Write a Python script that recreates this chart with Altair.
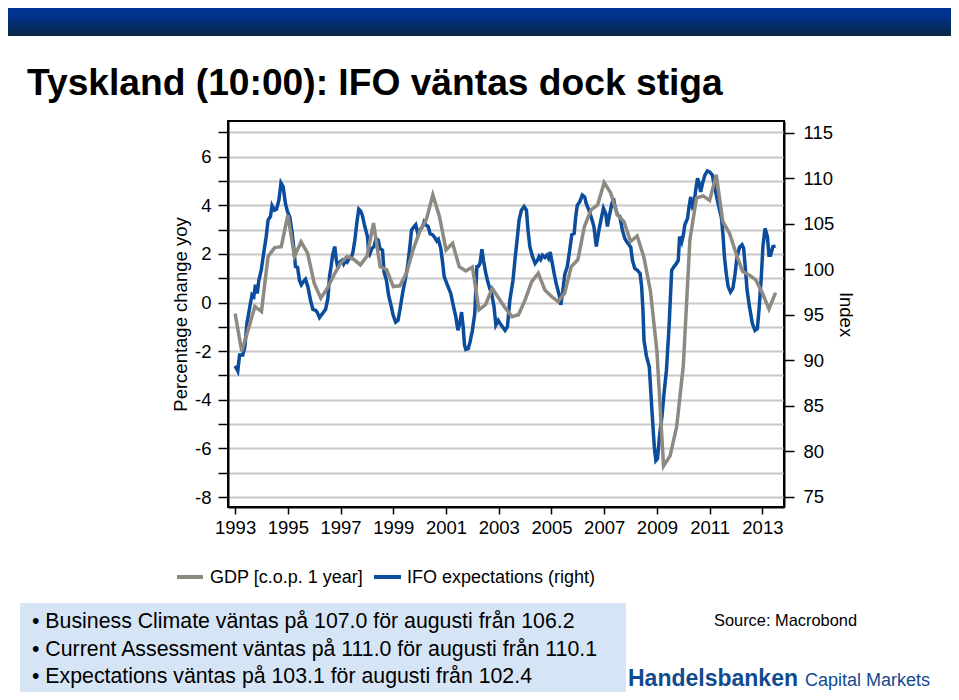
import altair as alt
import pandas as pd

# ---------------- data ----------------
gdp_time = [
    1993.00, 1993.25, 1993.50, 1993.75, 1994.00, 1994.25, 1994.50, 1994.75,
    1995.00, 1995.25, 1995.50, 1995.75, 1996.00, 1996.25, 1996.50, 1996.75,
    1997.00, 1997.25, 1997.50, 1997.75, 1998.00, 1998.25, 1998.50, 1998.75,
    1999.00, 1999.25, 1999.50, 1999.75, 2000.00, 2000.25, 2000.50, 2000.75,
    2001.00, 2001.25, 2001.50, 2001.75, 2002.00, 2002.25, 2002.50, 2002.75,
    2003.00, 2003.25, 2003.50, 2003.75, 2004.00, 2004.25, 2004.50, 2004.75,
    2005.00, 2005.25, 2005.50, 2005.75, 2006.00, 2006.25, 2006.50, 2006.75,
    2007.00, 2007.25, 2007.50, 2007.75, 2008.00, 2008.25, 2008.50, 2008.75,
    2009.00, 2009.25, 2009.50, 2009.75, 2010.00, 2010.25, 2010.50, 2010.75,
    2011.00, 2011.25, 2011.50, 2011.75, 2012.00, 2012.25, 2012.50, 2012.75,
    2013.00, 2013.25, 2013.50,
]
gdp_value = [
    -0.45, -2.0, -1.1, -0.16, -0.37, 1.9, 2.26, 2.3,
    3.6, 1.9, 2.5, 2.03, 0.8, 0.18, 0.59, 1.14,
    1.62, 1.9, 1.78, 1.55, 1.9, 3.27, 1.48, 1.35,
    0.66, 0.69, 1.21, 2.17, 2.92, 3.4, 4.43, 3.54,
    2.17, 2.44, 1.48, 1.3, 1.46, -0.3, -0.09, 0.59,
    0.18, -0.23, -0.58, -0.5, 0.11, 0.86, 1.21, 0.52,
    0.25, 0.04, 0.39, 1.48, 1.76, 3.13, 3.81, 4.02,
    4.94, 4.5, 3.61, 3.33, 2.51, 2.74, 1.89, 0.5,
    -2.0, -6.72, -6.3, -5.1, -2.6, 2.58, 4.3, 4.39,
    4.2, 5.26, 3.33, 2.86, 2.03, 1.28, 1.14, 0.93,
    0.39, -0.27, 0.41,
]

ifo_time = [
    1993.00, 1993.10, 1993.17, 1993.29, 1993.37, 1993.45, 1993.58, 1993.64,
    1993.71, 1993.77, 1993.84, 1993.90, 1993.99, 1994.09, 1994.18, 1994.25,
    1994.34, 1994.40, 1994.49, 1994.57, 1994.66, 1994.74, 1994.82, 1994.91,
    1994.99, 1995.07, 1995.16, 1995.22, 1995.29, 1995.37, 1995.44, 1995.51,
    1995.58, 1995.67, 1995.76, 1995.86, 1995.95, 1996.05, 1996.11, 1996.20,
    1996.30, 1996.43, 1996.52, 1996.58, 1996.64, 1996.70, 1996.78, 1996.84,
    1996.90, 1996.97, 1997.06, 1997.12, 1997.19, 1997.25, 1997.34, 1997.42,
    1997.47, 1997.54, 1997.63, 1997.69, 1997.76, 1997.82, 1997.92, 1998.02,
    1998.06, 1998.11, 1998.19, 1998.27, 1998.34, 1998.43, 1998.49, 1998.59,
    1998.65, 1998.74, 1998.82, 1998.91, 1998.99, 1999.09, 1999.18, 1999.26,
    1999.35, 1999.45, 1999.54, 1999.63, 1999.69, 1999.79, 1999.85, 1999.94,
    2000.01, 2000.11, 2000.17, 2000.23, 2000.32, 2000.40, 2000.49, 2000.57,
    2000.65, 2000.71, 2000.80, 2000.86, 2000.93, 2001.05, 2001.18, 2001.27,
    2001.37, 2001.45, 2001.52, 2001.59, 2001.65, 2001.70, 2001.75, 2001.84,
    2001.91, 2002.00, 2002.09, 2002.17, 2002.23, 2002.29, 2002.36, 2002.42,
    2002.51, 2002.57, 2002.66, 2002.73, 2002.82, 2002.89, 2002.98, 2003.05,
    2003.14, 2003.24, 2003.33, 2003.42, 2003.54, 2003.62, 2003.71, 2003.77,
    2003.86, 2003.96, 2004.05, 2004.11, 2004.18, 2004.28, 2004.38, 2004.47,
    2004.53, 2004.59, 2004.66, 2004.75, 2004.82, 2004.89, 2004.95, 2005.01,
    2005.10, 2005.19, 2005.29, 2005.35, 2005.42, 2005.50, 2005.60, 2005.69,
    2005.77, 2005.86, 2005.92, 2005.98, 2006.07, 2006.17, 2006.26, 2006.32,
    2006.42, 2006.52, 2006.61, 2006.70, 2006.80, 2006.89, 2006.97, 2007.06,
    2007.12, 2007.21, 2007.29, 2007.35, 2007.41, 2007.50, 2007.59, 2007.69,
    2007.78, 2007.86, 2007.94, 2008.01, 2008.07, 2008.16, 2008.26, 2008.36,
    2008.42, 2008.47, 2008.51, 2008.60, 2008.71, 2008.81, 2008.90, 2008.96,
    2009.02, 2009.11, 2009.19, 2009.27, 2009.36, 2009.46, 2009.56, 2009.65,
    2009.74, 2009.81, 2009.86, 2009.94, 2010.00, 2010.06, 2010.16, 2010.22,
    2010.28, 2010.35, 2010.41, 2010.47, 2010.54, 2010.60, 2010.66, 2010.73,
    2010.82, 2010.91, 2011.00, 2011.10, 2011.19, 2011.29, 2011.38, 2011.45,
    2011.51, 2011.56, 2011.63, 2011.70, 2011.79, 2011.88, 2011.95, 2012.04,
    2012.13, 2012.23, 2012.29, 2012.36, 2012.42, 2012.51, 2012.62, 2012.72,
    2012.81, 2012.87, 2012.96, 2013.02, 2013.10, 2013.19, 2013.25, 2013.31,
    2013.40, 2013.50,
]
ifo_value = [
    89.4, 88.85, 90.6, 90.6, 91.5, 94.1, 96.25, 97.2,
    97.0, 98.3, 97.35, 98.8, 99.9, 101.9, 103.6, 105.4,
    105.8, 107.0, 106.5, 106.6, 107.6, 109.5, 109.1, 107.2,
    106.3, 105.8, 104.1, 102.5, 100.3, 100.2, 98.8, 98.3,
    98.6, 98.9, 98.1, 96.6, 95.6, 95.5, 95.3, 94.7,
    95.1, 95.6, 96.8, 99.2, 100.3, 101.6, 102.5, 101.0,
    100.1, 100.8, 101.0, 100.6, 101.0, 100.8, 101.2, 101.4,
    101.9, 103.2, 105.4, 106.6, 106.4, 106.0, 104.7, 103.6,
    102.1, 101.7, 102.3, 102.5, 103.4, 103.2, 102.3, 102.1,
    99.7, 98.8, 97.2, 96.1, 95.0, 94.2, 94.4, 95.7,
    97.35, 98.8, 100.3, 102.5, 104.3, 104.7, 104.9, 103.8,
    104.3, 104.7, 105.2, 104.9, 104.7, 103.9, 103.8, 103.5,
    103.1, 103.3, 102.3, 101.0, 99.2, 98.3, 97.35, 96.1,
    94.8, 93.3, 94.05, 95.3, 93.7, 91.7, 91.2, 91.3,
    92.0, 93.3, 95.15, 100.3, 100.35, 100.65, 102.2, 101.0,
    99.55, 98.8, 97.9, 97.35, 95.9, 93.9, 94.4, 94.05,
    93.7, 93.3, 93.7, 96.6, 98.8, 101.2, 103.6, 105.4,
    106.5, 106.9, 106.5, 104.3, 102.5, 101.4, 100.65, 101.0,
    101.4, 101.1, 101.55, 101.3, 101.55, 101.2, 101.9, 101.0,
    99.55, 98.3, 97.2, 96.1, 97.35, 99.4, 100.3, 102.1,
    103.8, 103.95, 105.8, 107.05, 107.4, 108.15, 107.95, 107.2,
    106.5, 105.6, 104.7, 102.5, 104.3, 105.6, 106.7, 106.1,
    104.7, 106.1, 107.2, 107.8, 106.9, 106.0, 105.8, 104.3,
    103.4, 103.0, 102.7, 102.4, 101.0, 100.1, 99.9, 99.55,
    98.1, 95.5, 92.2, 90.5, 89.3, 84.5, 80.5, 79.0,
    79.2, 82.0, 83.8, 86.4, 88.9, 93.7, 99.9, 100.3,
    100.65, 101.0, 103.6, 103.0, 103.75, 104.9, 105.6, 106.9,
    107.95, 106.9, 107.2, 108.7, 110.0, 109.45, 108.5, 109.45,
    110.35, 110.8, 110.7, 110.35, 109.05, 107.6, 106.5, 105.6,
    103.6, 101.4, 99.55, 98.1, 97.5, 97.9, 99.2, 101.4,
    102.4, 102.7, 102.3, 99.9, 97.7, 95.9, 94.05, 93.3,
    93.5, 95.5, 99.2, 102.5, 104.5, 103.6, 101.55, 101.55,
    102.5, 102.55,
]

x_ticks = list(range(1993, 2014, 2))
left_ticks = list(range(-8, 8))
right_ticks = list(range(75, 116, 5))

title_text = "Tyskland (10:00): IFO väntas dock stiga"
left_title = "Percentage change yoy"
right_title = "Index"
legend_labels = ["GDP [c.o.p. 1 year]", "IFO expectations (right)"]
bullets = [
    "Business Climate väntas på 107.0 för augusti från 106.2",
    "Current Assessment väntas på 111.0 för augusti från 110.1",
    "Expectations väntas på 103.1 för augusti från 102.4",
]
source_text = "Source: Macrobond"
brand_bold = "Handelsbanken"
brand_light = "Capital Markets"

# ---------------- styling ----------------
GREY = "#8e8a82"
BLUE = "#0b4c9c"
BRAND = "#124a90"
FONT = "Liberation Sans"
TICK_FS = 18.5

W, H = 556, 386
PAD_L, PAD_T = 220, 113
TOTAL_W, TOTAL_H = 943, 684


def px(page_x):
    return page_x - 8 - PAD_L


def py(page_y):
    return page_y - 8 - PAD_T


gdp_df = pd.DataFrame({"t": gdp_time, "gdp": gdp_value})
ifo_df = pd.DataFrame({"t": ifo_time, "ifo": ifo_value})
one = pd.DataFrame({"k": [0]})

x_enc = alt.X(
    "t:Q",
    scale=alt.Scale(domain=[1992.73, 2013.82], nice=False, zero=False),
    axis=alt.Axis(
        values=x_ticks, format="d", title=None, grid=False,
        tickSize=7, tickColor="black", tickWidth=1.5,
        domainColor="black", domainWidth=2,
        labelFontSize=TICK_FS, labelColor="black", labelPadding=4,
        labelFlush=False, labelOverlap=False,
    ),
)

ifo_line = alt.Chart(ifo_df).mark_line(color=BLUE, strokeWidth=3.5).encode(
    x=x_enc,
    y=alt.Y(
        "ifo:Q",
        scale=alt.Scale(domain=[73.9, 116.29], nice=False, zero=False),
        axis=alt.Axis(
            orient="right", values=right_ticks, grid=False,
            tickSize=10, tickColor="black", tickWidth=1.5,
            domainColor="black", domainWidth=2,
            labelFontSize=TICK_FS, labelColor="black", labelPadding=9,
            labelOverlap=False,
            title=right_title, titleFontSize=18.5, titleFontWeight="normal",
            titleColor="black", titlePadding=2,
        ),
    ),
)

gdp_line = alt.Chart(gdp_df).mark_line(color=GREY, strokeWidth=3.5).encode(
    x=x_enc,
    y=alt.Y(
        "gdp:Q",
        scale=alt.Scale(domain=[-8.41, 7.47], nice=False, zero=False),
        axis=alt.Axis(
            orient="left", values=left_ticks,
            labelExpr="datum.value % 2 == 0 ? '' + datum.value : ''",
            grid=True, gridColor="#c8c8c8", gridWidth=2,
            tickSize=10, tickColor="black", tickWidth=1.5,
            domainColor="black", domainWidth=2,
            labelFontSize=TICK_FS, labelColor="black", labelPadding=7,
            labelOverlap=False,
            title=left_title, titleFontSize=18.5, titleFontWeight="normal",
            titleColor="black", titlePadding=4,
        ),
    ),
)

header = alt.Chart(one).mark_rect(
    fill={
        "gradient": "linear",
        "x1": 0, "y1": 0, "x2": 0, "y2": 1,
        "stops": [
            {"offset": 0, "color": "#0036a0"},
            {"offset": 0.45, "color": "#00318a"},
            {"offset": 1, "color": "#0a2846"},
        ],
    }
).encode(
    x=alt.value(px(0)), x2=alt.value(px(959)),
    y=alt.value(py(0)), y2=alt.value(py(36)),
)

title = alt.Chart(one).mark_text(
    align="left", baseline="alphabetic", fontSize=37.2, fontWeight="bold", color="black"
).encode(x=alt.value(px(27)), y=alt.value(py(95)), text=alt.value(title_text))

leg_grey = alt.Chart(one).mark_rule(color=GREY, strokeWidth=4).encode(
    x=alt.value(px(177)), x2=alt.value(px(203)), y=alt.value(py(577))
)
leg_grey_t = alt.Chart(one).mark_text(
    align="left", baseline="middle", fontSize=18, color="black"
).encode(x=alt.value(px(210)), y=alt.value(py(578)), text=alt.value(legend_labels[0]))
leg_blue = alt.Chart(one).mark_rule(color=BLUE, strokeWidth=4).encode(
    x=alt.value(px(374)), x2=alt.value(px(401)), y=alt.value(py(577))
)
leg_blue_t = alt.Chart(one).mark_text(
    align="left", baseline="middle", fontSize=18, color="black"
).encode(x=alt.value(px(407)), y=alt.value(py(578)), text=alt.value(legend_labels[1]))

box = alt.Chart(one).mark_rect(color="#d5e5f6").encode(
    x=alt.value(px(20)), x2=alt.value(px(626)),
    y=alt.value(py(603)), y2=alt.value(py(700)),
)

bullet_layers = []
for i, line in enumerate(bullets):
    bullet_layers.append(
        alt.Chart(one).mark_text(
            align="left", baseline="middle", fontSize=21.3, color="black"
        ).encode(
            x=alt.value(px(32)), y=alt.value(py(622 + i * 27.5)),
            text=alt.value("\u2022 " + line),
        )
    )

source = alt.Chart(one).mark_text(
    align="left", baseline="middle", fontSize=16.4, color="black"
).encode(x=alt.value(px(714)), y=alt.value(py(621)), text=alt.value(source_text))

brand1 = alt.Chart(one).mark_text(
    align="left", baseline="alphabetic", fontSize=23, fontWeight="bold", color=BRAND
).encode(x=alt.value(px(628)), y=alt.value(py(686)), text=alt.value(brand_bold))
brand2 = alt.Chart(one).mark_text(
    align="left", baseline="alphabetic", fontSize=18, color=BRAND
).encode(x=alt.value(px(805)), y=alt.value(py(686)), text=alt.value(brand_light))

chart = alt.layer(
    header, title, ifo_line, gdp_line,
    leg_grey, leg_grey_t, leg_blue, leg_blue_t,
    box, *bullet_layers, source, brand1, brand2,
).resolve_scale(
    y="independent"
).properties(
    width=W, height=H,
    autosize=alt.AutoSizeParams(type="none"),
    padding={"left": PAD_L, "top": PAD_T,
             "right": TOTAL_W - PAD_L - W, "bottom": TOTAL_H - PAD_T - H},
).configure(
    font=FONT
).configure_view(
    stroke="black", strokeWidth=2
)

chart.save("out.html", embed_options={"renderer": "svg", "actions": False})
